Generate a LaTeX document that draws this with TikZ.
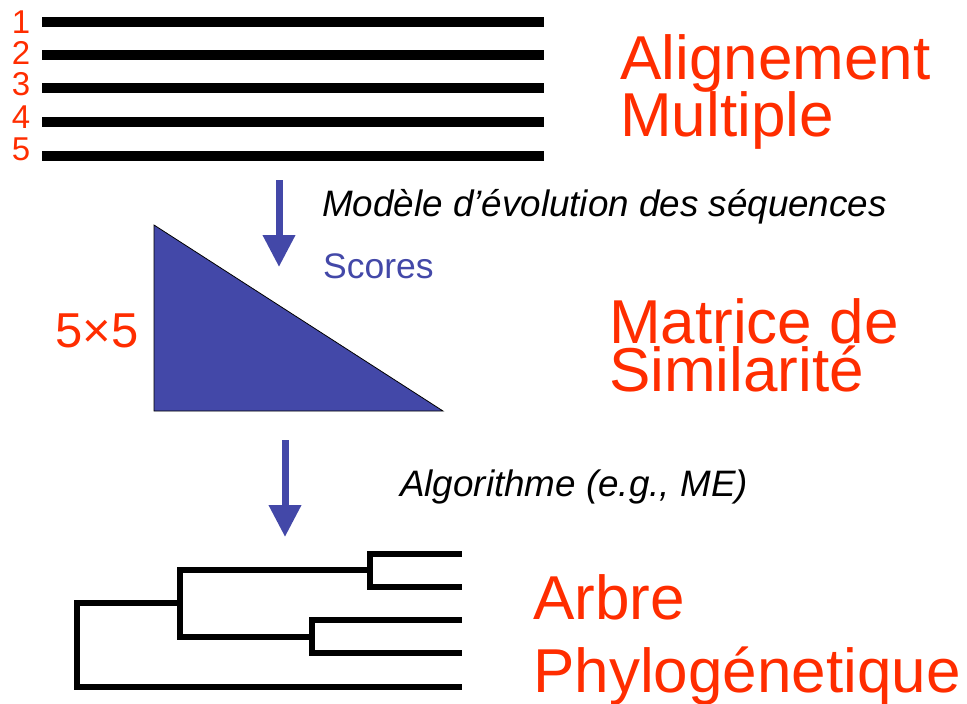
\documentclass[tikz,border=0pt]{standalone}
\usepackage{fontspec}
\setmainfont{Liberation Sans}
\usetikzlibrary{arrows.meta}
\definecolor{labred}{RGB}{255,45,0}
\definecolor{triblue}{RGB}{67,72,168}
\tikzset{
  seqline/.style={line width=10pt, black},
  treeline/.style={line width=6pt, black, line join=miter, line cap=rect},
  flowarrow/.style={line width=7pt, triblue, -{Triangle[width=31pt,length=32pt]}},
  bigred/.style={anchor=base west, inner sep=0pt, text=labred, font=\fontsize{62}{62}\selectfont},
  numred/.style={anchor=base, inner sep=0pt, text=labred, font=\fontsize{33}{33}\selectfont},
  steptext/.style={anchor=base west, inner sep=0pt, font=\fontsize{36.8}{37}\selectfont\itshape},
}
\begin{document}
\begin{tikzpicture}[x=1pt,y=-1pt]
\useasboundingbox (0,0) rectangle (967,704);
% sequence lines
\foreach \n/\yy/\nb in {1/22/34,2/55/64,3/88/95,4/122/128,5/156/160}{
  \draw[seqline] (42,\yy) -- (544,\yy);
  \node[numred] (num\n) at (21,\nb) {\n};
}
% labels right
\node[bigred] (align1) at (620,79) {Alignement};
\node[bigred] (align2) at (620,136) {Multiple};
\node[bigred] (mat1) at (609,343) {Matrice de};
\node[bigred] (mat2) at (609,391) {Similarité};
\node[bigred] (arb1) at (533,619) {Arbre};
\node[bigred] (arb2) at (533,692) {Phylogénetique};
% arrow 1
\coordinate (a1s) at (279,180);
\coordinate (a1e) at (279,267);
\draw[flowarrow] (a1s) -- (a1e);
\node[steptext] (model) at (322,216) {Modèle d’évolution des séquences};
\node[anchor=base west, inner sep=0pt, text=triblue, font=\fontsize{35.5}{36}\selectfont] (scores) at (323,278) {Scores};
% triangle matrix
\filldraw[fill=triblue, draw=black, line width=0.8pt] (154,225) -- (154,411) -- (443,411) -- cycle;
\node[anchor=base west, inner sep=0pt, text=labred, font=\fontsize{49}{49}\selectfont] (dim) at (55,347) {5×5};
% arrow 2
\coordinate (a2s) at (285,440);
\coordinate (a2e) at (285,537);
\draw[flowarrow] (a2s) -- (a2e);
\node[steptext] (algo) at (400,496) {Algorithme (e.g., ME)};
% tree
\draw[treeline] (459,554) -- (370,554) -- (370,587) -- (459,587);
\draw[treeline] (459,620) -- (312,620) -- (312,653) -- (459,653);
\draw[treeline] (370,570) -- (180,570) -- (180,637) -- (312,637);
\draw[treeline] (180,603) -- (77,603) -- (77,687) -- (459,687);
\end{tikzpicture}
\end{document}
